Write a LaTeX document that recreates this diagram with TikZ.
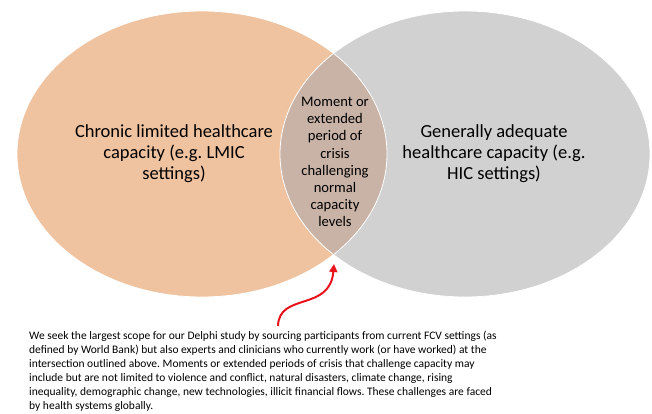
\documentclass[tikz,border=0pt]{standalone}
\usepackage{fontspec}
\setmainfont{Carlito}
\usetikzlibrary{arrows.meta}
\frenchspacing

\definecolor{lowcap}{HTML}{EFC2A0}
\definecolor{highcap}{HTML}{D1D1D1}
\definecolor{overlap}{HTML}{C8B3A6}
\definecolor{pointer}{HTML}{E8141B}

\tikzset{
  bigtext/.style={align=center, font=\fontsize{18.5}{21}\selectfont},
  midtext/.style={align=center, font=\fontsize{14.6}{17.2}\selectfont},
  notetext/.style={align=left, inner sep=0pt, anchor=north west, font=\fontsize{11.5}{13.9}\selectfont}
}

\begin{document}
\begin{tikzpicture}[x=1pt, y=-1pt]
  \useasboundingbox (0,0) rectangle (652,414);

  \fill[lowcap] (202,154) ellipse (185 and 143);
  \fill[highcap] (465,154) ellipse (185 and 143);
  \begin{scope}
    \clip (202,154) ellipse (185 and 143);
    \fill[overlap] (465,154) ellipse (185 and 143);
  \end{scope}
  \draw[white, line width=0.8pt] (202,154) ellipse (185 and 143);
  \draw[white, line width=0.8pt] (465,154) ellipse (185 and 143);

  \node[bigtext] (lmic) at (174,154) {Chronic limited healthcare\\capacity (e.g. LMIC\\settings)};
  \node[bigtext] (hic) at (494,154) {Generally adequate\\healthcare capacity (e.g.\\HIC settings)};
  \node[midtext] (crisis) at (335,162) {Moment or\\extended\\period of\\crisis\\challenging\\normal\\capacity\\levels};

  \node[notetext] (scope) at (29,331) {We seek the largest scope for our Delphi study by sourcing participants from current FCV settings (as\\
    defined by World Bank) but also experts and clinicians who currently work (or have worked) at the\\
    intersection outlined above. Moments or extended periods of crisis that challenge capacity may\\
    include but are not limited to violence and conflict, natural disasters, climate change, rising\\
    inequality, demographic change, new technologies, illicit financial flows. These challenges are faced\\
    by health systems globally.};

  \coordinate (tail) at (278,326);
  \coordinate (tip) at (334,264);
  \draw[pointer, line width=2pt, -{Triangle[length=8pt, width=8pt]}]
    (tail) .. controls (279,292) and (330,312) .. (tip);
\end{tikzpicture}
\end{document}
